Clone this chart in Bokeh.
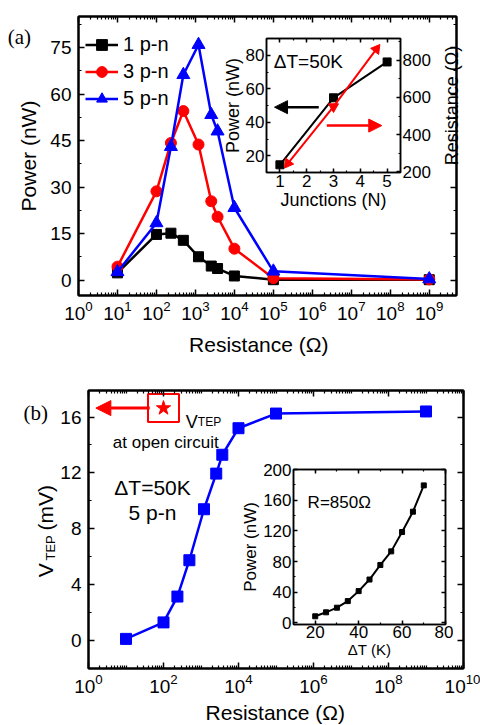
import math
from bokeh.plotting import figure
from bokeh.models import (Range1d, LinearAxis, LogAxis, FixedTicker, SingleIntervalTicker,
                          Legend, LegendItem, Label, Arrow, NormalHead, GridBox,
                          CustomJSTickFormatter)
from bokeh.embed import file_html
from bokeh.resources import INLINE

SANS = "Liberation Sans"
SERIF = "Liberation Serif"

# ---------------- data ----------------
# load resistance (Ohm), shared by panels (a) and (b)
resistance = [10, 100, 235, 490, 1200, 2550, 3700, 1e4, 1e5, 1e9]
# panel (a): output power (nW)
power_1pn = [2.3, 14.7, 15.1, 12.8, 7.5, 4.5, 3.7, 1.3, 0.1, 0.1]
power_3pn = [4.3, 28.6, 44.2, 54.5, 43.7, 25.4, 20.4, 10.1, 0.6, 0.2]
power_5pn = [2.6, 18.4, 43.0, 66.2, 75.9, 53.3, 48.0, 23.3, 2.8, 0.3]
series_labels = ["1 p-n", "3 p-n", "5 p-n"]

# inset (a)
junctions = [1, 3, 5]
max_power = [14.6, 54.6, 76.0]
junctions_r = [1.3, 3.0, 4.6]
matched_resistance = [245, 550, 860]

# panel (b): V_TEP (mV)
vtep = [0.12, 1.3, 3.15, 5.75, 9.4, 11.95, 13.3, 15.2, 16.25, 16.4]

# inset (b)
delta_t = [20, 25, 30, 35, 40, 45, 50, 55, 60, 65, 70]
power_850 = [8.7, 13.9, 19.9, 28.5, 41.5, 56.6, 75.6, 93.3, 118.5, 145.0, 179.3]

# tick positions
xa_ticks = [1, 1e1, 1e2, 1e3, 1e4, 1e5, 1e6, 1e7, 1e8, 1e9]
xb_ticks = [1, 1e2, 1e4, 1e6, 1e8, 1e10]
xa_minor = [m * 10 ** k for k in range(0, 10) for m in range(2, 10)]
xb_minor = xa_minor + [1e1, 1e3, 1e5, 1e7, 1e9]


def style_axis(ax, label_px, show_labels=True, line_w=2.0, major_in=6, minor_in=3, standoff=5):
    ax.axis_line_color = "black"
    ax.axis_line_width = line_w
    ax.major_tick_line_color = "black"
    ax.minor_tick_line_color = "black"
    ax.major_tick_line_width = 1.5
    ax.minor_tick_line_width = 1.2
    ax.major_tick_in = major_in
    ax.major_tick_out = 0
    ax.minor_tick_in = minor_in
    ax.minor_tick_out = 0
    ax.major_label_text_font = SANS
    ax.major_label_text_color = "black"
    ax.axis_label_text_font = SANS
    ax.axis_label_text_font_style = "normal"
    ax.axis_label_text_color = "black"
    if show_labels:
        ax.major_label_standoff = standoff
        ax.major_label_text_font_size = f"{label_px}px"
    else:
        ax.major_label_standoff = 0
        ax.major_label_text_font_size = "1px"
        ax.formatter = CustomJSTickFormatter(code="return ''")


def base_fig(**kw):
    p = figure(output_backend="svg", toolbar_location=None, align="start", **kw)
    p.grid.visible = False
    p.outline_line_color = "black"
    p.outline_line_width = 2
    return p


L = 56  # common left border of every panel (aligned by the grid)

# ---------------- panel (a) ----------------
pa = base_fig(width=451, height=350, x_axis_type="log",
              x_range=Range1d(1, 5e9), y_range=Range1d(-5, 85),
              min_border_left=L, min_border_right=17, min_border_top=16, min_border_bottom=55)
pa.margin = (0, 0, 0, 22)
xa_ticker = FixedTicker(ticks=xa_ticks, minor_ticks=xa_minor)
ya_ticker = SingleIntervalTicker(interval=15, num_minor_ticks=2)
pa.below[0].ticker = xa_ticker
pa.left[0].ticker = ya_ticker
pa.add_layout(LogAxis(ticker=xa_ticker), "above")
pa.add_layout(LinearAxis(ticker=ya_ticker), "right")
style_axis(pa.below[0], 19, standoff=5)
style_axis(pa.left[0], 19, standoff=7)
style_axis(pa.above[0], 19, show_labels=False)
style_axis(pa.right[0], 19, show_labels=False)

colors = ["black", "red", "blue"]
markers = ["square", "circle", "triangle"]
msizes = [10, 11, 13]
items = []
for lab, ys, c, m, s in zip(series_labels, [power_1pn, power_3pn, power_5pn], colors, markers, msizes):
    r1 = pa.line(resistance, ys, line_color=c, line_width=2.5)
    r2 = pa.scatter(resistance, ys, marker=m, size=s, fill_color=c, line_color=c)
    items.append(LegendItem(label=lab, renderers=[r1, r2]))
legend = Legend(items=items, location=(7, 183), orientation="vertical", margin=0, padding=0,
                spacing=0, glyph_width=33, glyph_height=27, label_height=27, label_standoff=5,
                label_text_font=SANS, label_text_font_size="20px", label_text_color="black",
                background_fill_alpha=0, border_line_color=None)
pa.add_layout(legend, "center")

# ---------------- inset (a) ----------------
ia = base_fig(width=245, height=196, x_range=Range1d(0.5, 5.5), y_range=Range1d(10, 90),
              min_border_left=L, min_border_right=55, min_border_top=16, min_border_bottom=46)
ia.margin = (22, 0, 0, 210)
ia.border_fill_alpha = 0
ia.background_fill_color = "white"
ia.outline_line_width = 1.5
ia.extra_y_ranges = {"res": Range1d(196, 917)}
ia_xt = SingleIntervalTicker(interval=1, num_minor_ticks=2)
ia.below[0].ticker = ia_xt
ia.left[0].ticker = SingleIntervalTicker(interval=20, num_minor_ticks=2)
ia.add_layout(LinearAxis(ticker=ia_xt), "above")
ia.add_layout(LinearAxis(y_range_name="res",
                         ticker=SingleIntervalTicker(interval=200, num_minor_ticks=2)), "right")
for ax in (ia.below[0], ia.left[0], ia.right[0]):
    style_axis(ax, 17, line_w=1.5, major_in=4, minor_in=2, standoff=2)
style_axis(ia.above[0], 17, show_labels=False, line_w=1.5, major_in=4, minor_in=2)
ia.below[0].axis_label = "Junctions (N)"
ia.left[0].axis_label = "Power (nW)"
for ax in (ia.below[0], ia.left[0]):
    ax.axis_label_text_font_size = "18px"
    ax.axis_label_standoff = 0

ia.line(junctions, max_power, line_color="black", line_width=2)
ia.scatter(junctions, max_power, marker="square", size=8, color="black")
ia.line(junctions_r, matched_resistance, y_range_name="res", line_color="red", line_width=2)
ia.scatter(junctions_r, matched_resistance, y_range_name="res", marker="triangle",
           angle=[2.5, math.pi, -0.65], size=10, color="red")
ia.add_layout(Arrow(end=NormalHead(size=13, fill_color="black", line_color="black"),
                    x_start=2.45, y_start=49, x_end=0.8, y_end=49, line_color="black", line_width=2.5))
ia.add_layout(Arrow(end=NormalHead(size=13, fill_color="red", line_color="red"),
                    x_start=2.75, y_start=38, x_end=4.8, y_end=38, line_color="red", line_width=2.5))
ia.add_layout(Label(x=0.77, y=76.4, text="\u0394T=50K", text_font=SANS, text_font_size="19px",
                    text_baseline="middle", text_align="left", text_color="black"))

# ---------------- panel (b) ----------------
pb = base_fig(width=448, height=375, x_axis_type="log",
              x_range=Range1d(1, 1e10), y_range=Range1d(-2, 17.9),
              min_border_left=L, min_border_right=17, min_border_top=40, min_border_bottom=57)
pb.margin = (0, 0, 0, 32)
xb_ticker = FixedTicker(ticks=xb_ticks, minor_ticks=xb_minor)
yb_ticker = SingleIntervalTicker(interval=4, num_minor_ticks=2)
pb.below[0].ticker = xb_ticker
pb.left[0].ticker = yb_ticker
pb.add_layout(LogAxis(ticker=xb_ticker), "above")
pb.add_layout(LinearAxis(ticker=yb_ticker), "right")
style_axis(pb.below[0], 19, standoff=5)
style_axis(pb.left[0], 19, standoff=7)
style_axis(pb.above[0], 19, show_labels=False)
style_axis(pb.right[0], 19, show_labels=False)

pb.line(resistance, vtep, line_color="blue", line_width=2.5)
pb.scatter(resistance, vtep, marker="square", size=11, color="blue")

pb.add_layout(Arrow(end=NormalHead(size=15, fill_color="red", line_color="red"),
                    x_start=43, y_start=16.64, x_end=1.57, y_end=16.64, line_color="red", line_width=3))
pb.rect(x=[100], y=[16.64], width=31, height=28, width_units="screen", height_units="screen",
        fill_color=None, line_color="red", line_width=2)
pb.scatter(x=[100], y=[16.64], marker="star", size=15, color="red")
pb.add_layout(Label(x=394, y=15.64, text="V", text_font=SANS, text_font_size="18px",
                    text_baseline="alphabetic", text_color="black"))
pb.add_layout(Label(x=394, y=15.64, x_offset=12, text="TEP", text_font=SANS, text_font_size="12px",
                    text_baseline="alphabetic", text_color="black"))
pb.add_layout(Label(x=115, y=14.15, text="at open circuit", text_font=SANS, text_font_size="17px",
                    text_baseline="alphabetic", text_align="center", text_color="black"))
pb.add_layout(Label(x=51, y=10.93, text="\u0394T=50K", text_font=SANS, text_font_size="21px",
                    text_baseline="alphabetic", text_align="center", text_color="black"))
pb.add_layout(Label(x=51, y=9.16, text="5 p-n", text_font=SANS, text_font_size="21px",
                    text_baseline="alphabetic", text_align="center", text_color="black"))

# ---------------- inset (b) ----------------
ib = base_fig(width=216, height=237, x_range=Range1d(10, 80), y_range=Range1d(-2, 200),
              min_border_left=L, min_border_right=8, min_border_top=40, min_border_bottom=42)
ib.margin = (79, 0, 0, 237)
ib.border_fill_alpha = 0
ib.background_fill_color = "white"
ib.outline_line_width = 1.5
ib_xt = SingleIntervalTicker(interval=20, num_minor_ticks=2)
ib_yt = SingleIntervalTicker(interval=40, num_minor_ticks=2)
ib.below[0].ticker = ib_xt
ib.left[0].ticker = ib_yt
ib.add_layout(LinearAxis(ticker=ib_xt), "above")
ib.add_layout(LinearAxis(ticker=ib_yt), "right")
style_axis(ib.below[0], 17, line_w=1.5, major_in=4, minor_in=2, standoff=1)
style_axis(ib.left[0], 17, line_w=1.5, major_in=4, minor_in=2, standoff=2)
style_axis(ib.above[0], 17, show_labels=False, line_w=1.5, major_in=4, minor_in=2)
style_axis(ib.right[0], 17, show_labels=False, line_w=1.5, major_in=4, minor_in=2)
ib.below[0].axis_label = "\u0394T (K)"
ib.below[0].axis_label_text_font_size = "15px"
ib.below[0].axis_label_standoff = 0
ib.left[0].axis_label = "Power (nW)"
ib.left[0].axis_label_text_font_size = "17px"
ib.left[0].axis_label_standoff = 0
ib.line(delta_t, power_850, line_color="black", line_width=2)
ib.scatter(delta_t, power_850, marker="square", size=5, color="black")
ib.add_layout(Label(x=16.5, y=157.6, text="R=850\u03a9", text_font=SANS, text_font_size="17px",
                    text_baseline="middle", text_align="left", text_color="black"))

# ---------------- text layer for labels outside the plot frames (page pixels) ----------------
ov = figure(width=480, height=725, x_range=Range1d(0, 480), y_range=Range1d(725, 0),
            output_backend="svg", toolbar_location=None, align="start",
            x_axis_location=None, y_axis_location=None,
            min_border_left=0, min_border_right=0, min_border_top=0, min_border_bottom=0)
ov.grid.visible = False
ov.outline_line_color = None
ov.background_fill_alpha = 0
ov.border_fill_alpha = 0


def page_text(x, y, text, size, font=SANS, angle=0.0, align="left"):
    ov.add_layout(Label(x=x, y=y, text=text, text_font=font, text_font_size=f"{size}px",
                        text_color="black", angle=angle, text_align=align,
                        text_baseline="alphabetic"))


page_text(7.3, 36.7, "(a)", 21, font=SERIF)
page_text(28, 155.5, "Power (nW)", 21, angle=math.pi / 2, align="center")
page_text(258.3, 344, "Resistance (\u03a9)", 21, align="center")
page_text(451, 105, "Resistance (\u03a9)", 18, angle=math.pi / 2, align="center")
page_text(23, 412, "(b)", 21, font=SERIF)
page_text(45, 576.7, "V", 21, angle=math.pi / 2)
page_text(50, 560, "TEP", 13, angle=math.pi / 2)
page_text(45, 530, "(mV)", 21, angle=math.pi / 2)
page_text(274.8, 712, "Resistance (\u03a9)", 21, align="center")

root = GridBox(children=[(pa, 1, 1, 2, 3), (ia, 1, 1, 1, 1),
                         (pb, 3, 1, 2, 3), (ib, 3, 1, 1, 2),
                         (ov, 0, 0, 6, 5)],
               cols=["0px", "auto", "auto", "auto", "0px"],
               rows=["0px", "auto", "auto", "auto", "auto", "0px"],
               spacing=0)
open("out.html", "w").write(file_html(root, INLINE))
